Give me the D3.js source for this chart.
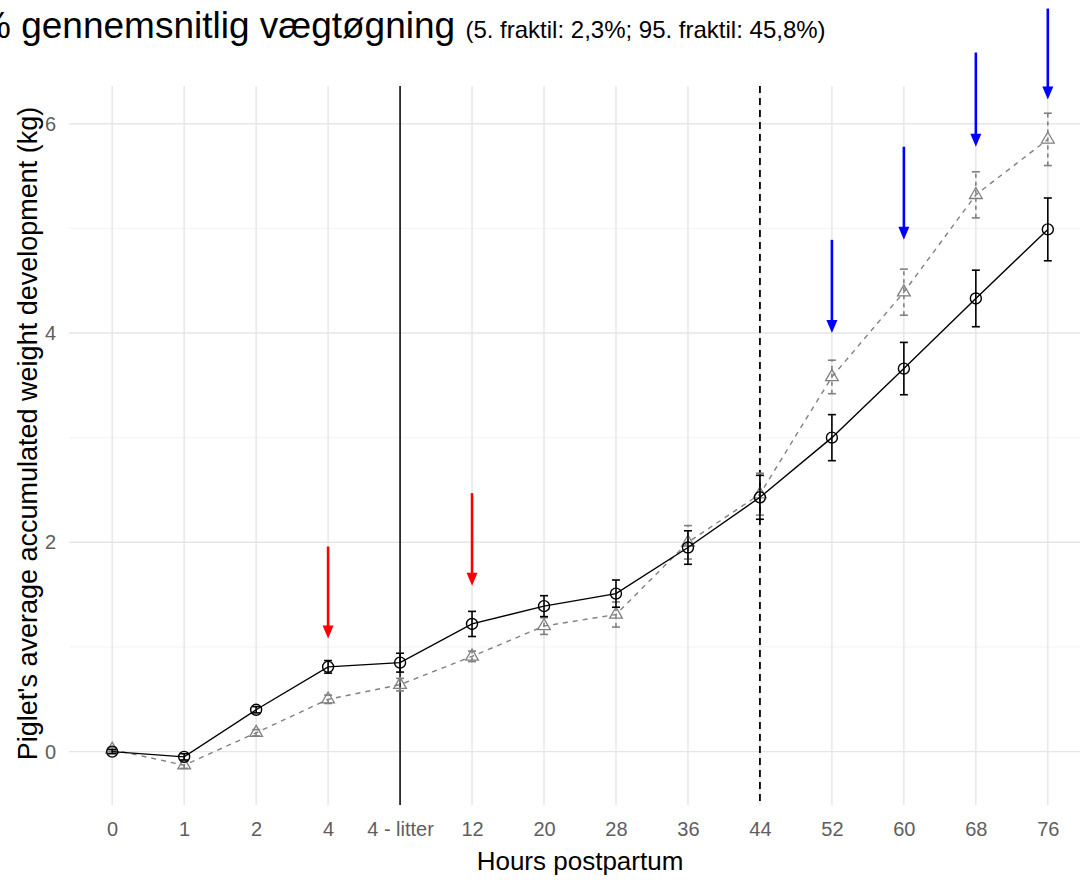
<!DOCTYPE html>
<html>
<head>
<meta charset="utf-8">
<script src="https://cdn.jsdelivr.net/npm/d3@7"></script>
<style>
  body { margin: 0; background: #fff; }
  text { font-family: "Liberation Sans", Arial, sans-serif; }
</style>
</head>
<body>
<svg id="chart" width="1080" height="880"></svg>
<script>
// hours postpartum (discrete categories on x)
const hours = ["0", "1", "2", "4", "4 - litter", "12", "20", "28", "36", "44", "52", "60", "68", "76"];

// solid black series (circles)
const circleMean = [0, -0.05, 0.40, 0.81, 0.85, 1.22, 1.39, 1.51, 1.95, 2.43, 3.00, 3.66, 4.33, 4.99];
const circleErr = [0.02, 0.03, 0.03, 0.06, 0.09, 0.12, 0.10, 0.13, 0.16, 0.21, 0.22, 0.25, 0.27, 0.30];

// dashed grey series (triangles)
const triMean = [0.02, -0.13, 0.18, 0.50, 0.64, 0.91, 1.20, 1.31, 2.00, 2.46, 3.58, 4.39, 5.32, 5.85];
const triErr = [0.02, 0.03, 0.03, 0.04, 0.06, 0.05, 0.08, 0.12, 0.16, 0.20, 0.16, 0.22, 0.22, 0.25];

// y ticks
const majorTicks = [0, 2, 4, 6];
const minorTicks = [1, 3, 5];

// reference lines
const solidLineAt = "4 - litter";
const dashedLineAt = "44";

// annotation arrows (start and tip in kg)
const arrowAt = ["4", "12", "52", "60", "68", "76"];
const arrowFrom = [1.96, 2.47, 4.89, 5.78, 6.68, 7.10];
const arrowTo = [1.08, 1.585, 4.00, 4.89, 5.78, 6.23];
const arrowGroup = ["red", "red", "blue", "blue", "blue", "blue"];

const svg = d3.select("#chart");
svg.append("rect").attr("width", 1080).attr("height", 880).attr("fill", "#fff");

const panelTop = 86, panelBottom = 805, panelLeft = 69, panelRight = 1091;

const x = d3.scalePoint().domain(hours).range([panelLeft, panelRight]).padding(0.6);
const y = d3.scaleLinear().domain([-0.51, 6.36]).range([panelBottom, panelTop]);
const arrowColor = d3.scaleOrdinal().domain(["red", "blue"]).range(["#ff0000", "#0000ff"]);

const grey = "#808080";

// grid
const grid = svg.append("g");
grid.selectAll("line.minor").data(minorTicks).join("line")
    .attr("class", "minor")
    .attr("x1", panelLeft).attr("x2", panelRight)
    .attr("y1", d => y(d)).attr("y2", d => y(d))
    .attr("stroke", "#f0f0f0").attr("stroke-width", 0.8);
grid.selectAll("line.major").data(majorTicks).join("line")
    .attr("class", "major")
    .attr("x1", panelLeft).attr("x2", panelRight)
    .attr("y1", d => y(d)).attr("y2", d => y(d))
    .attr("stroke", "#e6e6e6").attr("stroke-width", 1.4);
grid.selectAll("line.vert").data(hours).join("line")
    .attr("class", "vert")
    .attr("x1", d => x(d)).attr("x2", d => x(d))
    .attr("y1", panelTop).attr("y2", panelBottom)
    .attr("stroke", "#e6e6e6").attr("stroke-width", 1.4);

// axes, ggplot-minimal style: no domain, no ticks
const yAxis = svg.append("g")
    .attr("transform", `translate(${panelLeft - 4},0)`)
    .call(d3.axisLeft(y).tickValues(majorTicks).tickFormat(d3.format("d")).tickSize(0).tickPadding(9));
const xAxis = svg.append("g")
    .attr("transform", `translate(0,${panelBottom})`)
    .call(d3.axisBottom(x).tickSize(0).tickPadding(17));
[yAxis, xAxis].forEach(a => {
    a.select(".domain").remove();
    a.selectAll("text")
        .style("font-family", '"Liberation Sans", Arial, sans-serif')
        .style("font-size", "20px")
        .attr("fill", "#5e5e5e");
});

// axis titles
svg.append("text")
    .attr("x", x("28") - 36).attr("y", 870)
    .attr("text-anchor", "middle")
    .style("font-size", "26px")
    .text("Hours postpartum");

svg.append("text")
    .attr("transform", `translate(37,${(panelTop + panelBottom) / 2 - 12}) rotate(-90)`)
    .attr("text-anchor", "middle")
    .style("font-size", "27px")
    .text("Piglet's average accumulated weight development (kg)");

// vertical reference lines
svg.append("line")
    .attr("x1", x(solidLineAt)).attr("x2", x(solidLineAt))
    .attr("y1", panelTop).attr("y2", panelBottom)
    .attr("stroke", "#000").attr("stroke-width", 1.5);
svg.append("line")
    .attr("x1", x(dashedLineAt)).attr("x2", x(dashedLineAt))
    .attr("y1", panelTop).attr("y2", panelBottom)
    .attr("stroke", "#000").attr("stroke-width", 1.8)
    .attr("stroke-dasharray", "7,5");

// series
const series = [
    { mean: triMean, err: triErr, color: grey, dash: "5,5", shape: "tri" },
    { mean: circleMean, err: circleErr, color: "#000", dash: null, shape: "circle" }
];

const line = d3.line()
    .x((d, i) => x(hours[i]))
    .y(d => y(d));

series.forEach(s => {
    const g = svg.append("g");
    g.append("path")
        .datum(s.mean)
        .attr("d", line)
        .attr("fill", "none")
        .attr("stroke", s.color)
        .attr("stroke-width", 1.4)
        .attr("stroke-dasharray", s.dash);

    const bars = g.selectAll("g.err").data(s.mean).join("g")
        .attr("class", "err")
        .attr("stroke", s.color)
        .attr("stroke-width", 1.6);
    bars.append("line")
        .attr("stroke-dasharray", s.dash ? "4,4" : null)
        .attr("x1", (d, i) => x(hours[i])).attr("x2", (d, i) => x(hours[i]))
        .attr("y1", (d, i) => y(d - s.err[i])).attr("y2", (d, i) => y(d + s.err[i]));
    [-1, 1].forEach(k => {
        bars.append("line")
            .attr("x1", (d, i) => x(hours[i]) - 4).attr("x2", (d, i) => x(hours[i]) + 4)
            .attr("y1", (d, i) => y(d + k * s.err[i])).attr("y2", (d, i) => y(d + k * s.err[i]));
    });

    if (s.shape === "circle") {
        g.selectAll("circle").data(s.mean).join("circle")
            .attr("cx", (d, i) => x(hours[i]))
            .attr("cy", d => y(d))
            .attr("r", 5.5)
            .attr("fill", "none")
            .attr("stroke", s.color)
            .attr("stroke-width", 1.4);
    } else {
        const tri = d3.symbol(d3.symbolTriangle, 70);
        g.selectAll("path.pt").data(s.mean).join("path")
            .attr("class", "pt")
            .attr("transform", (d, i) => `translate(${x(hours[i])},${y(d)})`)
            .attr("d", tri)
            .attr("fill", "none")
            .attr("stroke", s.color)
            .attr("stroke-width", 1.3);
    }
});

// arrows
const arrows = svg.append("g").selectAll("g").data(arrowAt).join("g")
    .attr("fill", (d, i) => arrowColor(arrowGroup[i]))
    .attr("stroke", (d, i) => arrowColor(arrowGroup[i]));
arrows.append("line")
    .attr("x1", d => x(d)).attr("x2", d => x(d))
    .attr("y1", (d, i) => y(arrowFrom[i]))
    .attr("y2", (d, i) => y(arrowTo[i]) - 10)
    .attr("stroke-width", 2.6);
arrows.append("path")
    .attr("stroke", "none")
    .attr("d", (d, i) => {
        const cx = x(d), ty = y(arrowTo[i]);
        return `M${cx - 5.5},${ty - 13}L${cx + 5.5},${ty - 13}L${cx},${ty}Z`;
    });

// title (cropped on the left as in the source image)
const title = svg.append("text")
    .attr("x", -22).attr("y", 38)
    .style("font-size", "37px")
    .text("% gennemsnitlig vægtøgning ");
title.append("tspan")
    .style("font-size", "24px")
    .text("(5. fraktil: 2,3%; 95. fraktil: 45,8%)");
</script>
</body>
</html>
